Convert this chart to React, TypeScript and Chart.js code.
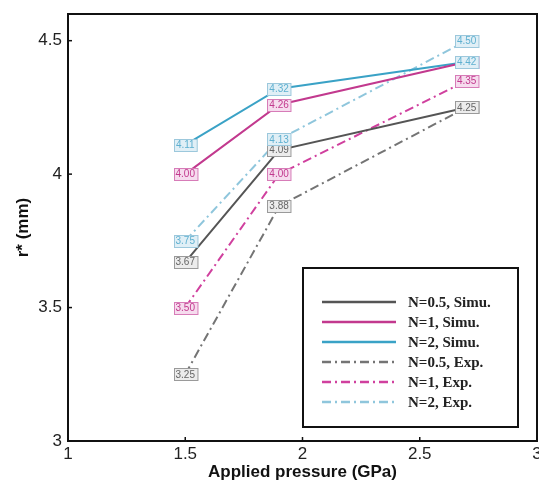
import React, { useEffect, useRef } from "react";
import { Chart, registerables } from "chart.js";

Chart.register(...registerables);

const xValues = [1.5, 1.9, 2.7];
const seriesLabels = [
  "N=0.5, Simu.",
  "N=1, Simu.",
  "N=2, Simu.",
  "N=0.5, Exp.",
  "N=1, Exp.",
  "N=2, Exp.",
];
const simuN05 = [3.67, 4.09, 4.25];
const simuN1 = [4.0, 4.26, 4.42];
const simuN2 = [4.11, 4.32, 4.42];
const expN05 = [3.25, 3.88, 4.25];
const expN1 = [3.5, 4.0, 4.35];
const expN2 = [3.75, 4.13, 4.5];
const seriesValues = [simuN05, simuN1, simuN2, expN05, expN1, expN2];

const xTicks = [1, 1.5, 2, 2.5, 3];
const yTicks = [3, 3.5, 4, 4.5];

const lineColors = ["#555555", "#c2398e", "#3aa2c6", "#747474", "#d0409e", "#8fc6dc"];
const labelText = ["#666666", "#c2398e", "#5fb0d0", "#666666", "#c2398e", "#5fb0d0"];
const labelEdge = ["#9a9a9a", "#d77cb8", "#9cc8dc", "#9a9a9a", "#d77cb8", "#9cc8dc"];
const labelFill = ["#ececec", "#f6dcee", "#e0eff6", "#ececec", "#f6dcee", "#e0eff6"];
const dashPattern = [9, 4, 2, 4];

const overlayPlugin = {
  id: "overlay",
  afterDatasetsDraw(chart: any) {
    const ctx = chart.ctx;
    ctx.save();
    ctx.font = "10px 'Liberation Sans', Arial, sans-serif";
    ctx.textAlign = "center";
    ctx.textBaseline = "middle";
    chart.data.datasets.forEach((ds: any, i: number) => {
      const meta = chart.getDatasetMeta(i);
      meta.data.forEach((el: any, j: number) => {
        const txt = ds.data[j].y.toFixed(2);
        const w = ctx.measureText(txt).width + 4;
        const h = 12;
        const bx = Math.round(el.x - w / 2) + 0.5;
        const by = Math.round(el.y - h / 2) + 0.5;
        ctx.fillStyle = labelFill[i];
        ctx.fillRect(bx, by, w, h);
        ctx.strokeStyle = labelEdge[i];
        ctx.lineWidth = 1;
        ctx.strokeRect(bx, by, w, h);
        ctx.fillStyle = labelText[i];
        ctx.fillText(txt, el.x, el.y + 0.5);
      });
    });
    ctx.restore();
  },
  afterDraw(chart: any) {
    const ctx = chart.ctx;
    const { left, right, top, bottom } = chart.chartArea;
    const xs = chart.scales.x;
    const ys = chart.scales.y;
    ctx.save();
    // frame
    ctx.strokeStyle = "#111";
    ctx.lineWidth = 2;
    ctx.strokeRect(left, top, right - left, bottom - top);
    // inward ticks
    ctx.lineWidth = 1.5;
    xTicks.forEach((v) => {
      const px = xs.getPixelForValue(v);
      ctx.beginPath();
      ctx.moveTo(px, bottom);
      ctx.lineTo(px, bottom - 4);
      ctx.stroke();
    });
    yTicks.forEach((v) => {
      const py = ys.getPixelForValue(v);
      ctx.beginPath();
      ctx.moveTo(left, py);
      ctx.lineTo(left + 4, py);
      ctx.stroke();
    });
    // axis titles
    ctx.fillStyle = "#111";
    ctx.font = "bold 17px 'Liberation Sans', Arial, sans-serif";
    ctx.textAlign = "center";
    ctx.textBaseline = "middle";
    ctx.fillText("Applied pressure (GPa)", (left + right) / 2, 472);
    ctx.save();
    ctx.translate(23, (top + bottom) / 2);
    ctx.rotate(-Math.PI / 2);
    ctx.fillText("r* (mm)", 0, 0);
    ctx.restore();
    // legend
    const lx = 303, ly = 268, lw = 215, lh = 159;
    ctx.fillStyle = "#fff";
    ctx.fillRect(lx, ly, lw, lh);
    ctx.strokeStyle = "#111";
    ctx.lineWidth = 2;
    ctx.strokeRect(lx, ly, lw, lh);
    ctx.font = "bold 15px 'Liberation Serif', 'Times New Roman', serif";
    ctx.textAlign = "left";
    chart.data.datasets.forEach((ds: any, i: number) => {
      const y = 302 + i * 20;
      ctx.strokeStyle = lineColors[i];
      ctx.lineWidth = 2.5;
      ctx.setLineDash(i >= 3 ? dashPattern : []);
      ctx.beginPath();
      ctx.moveTo(322, y);
      ctx.lineTo(396, y);
      ctx.stroke();
      ctx.setLineDash([]);
      ctx.fillStyle = "#222";
      ctx.fillText(ds.label, 408, y + 1);
    });
    ctx.restore();
  },
};

export default function App() {
  const ref = useRef<HTMLCanvasElement | null>(null);
  useEffect(() => {
    if (!ref.current) return;
    const chart = new Chart(ref.current, {
      type: "line",
      data: {
        datasets: seriesValues.map((vals, i) => ({
          label: seriesLabels[i],
          data: xValues.map((x, j) => ({ x, y: vals[j] })),
          borderColor: lineColors[i],
          backgroundColor: lineColors[i],
          borderWidth: 2,
          borderDash: i >= 3 ? dashPattern : [],
          pointRadius: 0,
          fill: false,
          tension: 0,
        })),
      },
      options: {
        animation: false,
        responsive: false,
        devicePixelRatio: 1,
        layout: { padding: { left: 0, right: 2, top: 14, bottom: 0 } },
        plugins: { legend: { display: false }, tooltip: { enabled: false } },
        scales: {
          x: {
            type: "linear",
            min: 1,
            max: 3,
            grid: { display: false, drawTicks: false },
            border: { display: false },
            ticks: {
              stepSize: 0.5,
              includeBounds: false,
              maxRotation: 0,
              padding: 3,
              color: "#222",
              font: { family: "'Liberation Sans', Arial, sans-serif", size: 17 },
              callback: (v: any) => String(v),
            },
            afterFit: (s: any) => {
              s.height = 42;
              s.paddingLeft = 0;
              s.paddingRight = 0;
            },
          },
          y: {
            type: "linear",
            min: 3,
            max: 4.6,
            grid: { display: false, drawTicks: false },
            border: { display: false },
            ticks: {
              stepSize: 0.5,
              includeBounds: false,
              padding: 6,
              color: "#222",
              font: { family: "'Liberation Sans', Arial, sans-serif", size: 17 },
              callback: (v: any) => String(v),
            },
            afterFit: (s: any) => {
              s.width = 68;
              s.paddingTop = 0;
              s.paddingBottom = 0;
            },
          },
        },
      },
      plugins: [overlayPlugin],
    } as any);
    return () => chart.destroy();
  }, []);
  return (
    <div style={{ position: "fixed", left: 0, top: 0, width: 539, height: 483, background: "#fff" }}>
      <canvas ref={ref} width={539} height={483} />
    </div>
  );
}
